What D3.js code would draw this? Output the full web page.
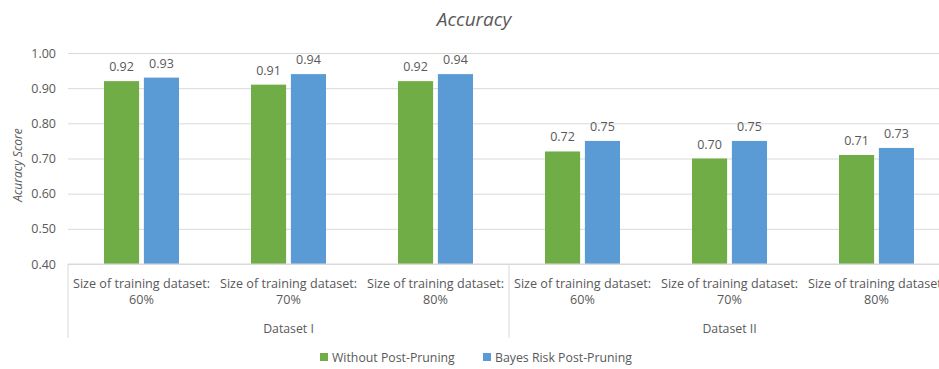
<!DOCTYPE html>
<html>
<head>
<meta charset="utf-8">
<script src="https://cdn.jsdelivr.net/npm/d3@7"></script>
<style>
  html, body { margin: 0; padding: 0; background: #fff; overflow: hidden; }
  svg { display: block; font-family: "Open Sans", "Noto Sans", sans-serif; }
</style>
</head>
<body>
<svg id="chart" width="939" height="369"></svg>
<script>
// Accuracy of two pruning strategies across training-set sizes
const datasets = ["Dataset I", "Dataset II"];
const sizes = ["60%", "70%", "80%"];
const seriesNames = ["Without Post-Pruning", "Bayes Risk Post-Pruning"];
const withoutPruning = [0.92, 0.91, 0.92, 0.72, 0.70, 0.71];
const bayesRisk = [0.93, 0.94, 0.94, 0.75, 0.75, 0.73];
const yTicks = [0.40, 0.50, 0.60, 0.70, 0.80, 0.90, 1.00];
const colors = ["#70ad47", "#5b9bd5"];

const categories = [];
datasets.forEach(d => sizes.forEach(s => categories.push(d + "|" + s)));
const series = [withoutPruning, bayesRisk];

const svg = d3.select("#chart");
const plotLeft = 68, plotRight = 950, plotTop = 53, plotBottom = 264;
const textColor = "#595959";

const x = d3.scaleBand().domain(categories).range([plotLeft, plotRight]);
const y = d3.scaleLinear().domain([0.4, 1.0]).range([plotBottom, plotTop]);
const barW = 33, gap = 9;
const inner = d3.scaleBand().domain(d3.range(series.length))
  .range([-(barW + gap / 2), barW + gap / 2]).paddingInner(gap / (2 * barW + gap));

// Title
svg.append("text").attr("x", 474).attr("y", 26).attr("text-anchor", "middle")
  .attr("font-size", 19).attr("font-style", "italic").attr("fill", textColor)
  .text("Accuracy");

// Y-axis title
svg.append("text").attr("transform", `translate(22,165) rotate(-90)`)
  .attr("text-anchor", "middle").attr("font-size", 12).attr("font-style", "italic")
  .attr("fill", textColor).text("Acuracy Score");

// Gridlines and tick labels
const yAxis = d3.axisLeft(y).tickValues(yTicks).tickFormat(d3.format(".2f"))
  .tickSize(-(plotRight - plotLeft)).tickPadding(12);
const gy = svg.append("g").attr("transform", `translate(${plotLeft},0)`).call(yAxis);
gy.select(".domain").remove();
gy.selectAll(".tick line").attr("stroke", "#d9d9d9").attr("stroke-width", 1);
gy.selectAll(".tick text").attr("fill", textColor).attr("font-size", 12.5)
  .attr("font-family", "Open Sans, sans-serif");

// Bars and value labels
series.forEach((vals, si) => {
  const g = svg.append("g");
  g.selectAll("rect").data(vals).join("rect")
    .attr("x", (d, i) => x(categories[i]) + x.bandwidth() / 2 + inner(si))
    .attr("y", d => y(d))
    .attr("width", inner.bandwidth())
    .attr("height", d => y(0.4) - y(d))
    .attr("fill", colors[si]);
  g.selectAll("text").data(vals).join("text")
    .attr("x", (d, i) => x(categories[i]) + x.bandwidth() / 2 + inner(si) + inner.bandwidth() / 2)
    .attr("y", d => y(d) - 10)
    .attr("text-anchor", "middle").attr("font-size", 12.5).attr("fill", textColor)
    .text(d => d3.format(".2f")(d));
});

// Category axis: baseline and group dividers
const axisColor = "#d9d9d9";
svg.append("line").attr("x1", plotLeft).attr("x2", plotRight)
  .attr("y1", plotBottom).attr("y2", plotBottom).attr("stroke", axisColor);
const groupEdges = [0, 3, 6].map(i => i < categories.length ? x(categories[i]) : plotRight);
groupEdges.forEach(gx => {
  svg.append("line").attr("x1", gx).attr("x2", gx).attr("y1", plotBottom).attr("y2", 338)
    .attr("stroke", axisColor);
});

// Category labels
categories.forEach(c => {
  const cx = x(c) + x.bandwidth() / 2;
  const size = c.split("|")[1];
  const t = svg.append("text").attr("text-anchor", "middle").attr("font-size", 12.6)
    .attr("fill", textColor);
  t.append("tspan").attr("x", cx).attr("y", 288).text("Size of training dataset:");
  t.append("tspan").attr("x", cx).attr("y", 304).text(size);
});

// Dataset labels
datasets.forEach((d, i) => {
  const x0 = x(categories[i * 3]);
  const x1 = x(categories[i * 3 + 2]) + x.bandwidth();
  svg.append("text").attr("x", (x0 + x1) / 2).attr("y", 333).attr("text-anchor", "middle")
    .attr("font-size", 12.3).attr("fill", textColor).text(d);
});

// Legend
const legendX = [320, 483];
seriesNames.forEach((name, i) => {
  svg.append("rect").attr("x", legendX[i]).attr("y", 353).attr("width", 8).attr("height", 8)
    .attr("fill", colors[i]);
  svg.append("text").attr("x", legendX[i] + 12).attr("y", 362).attr("font-size", 12.3)
    .attr("fill", textColor).text(name);
});
</script>
</body>
</html>
